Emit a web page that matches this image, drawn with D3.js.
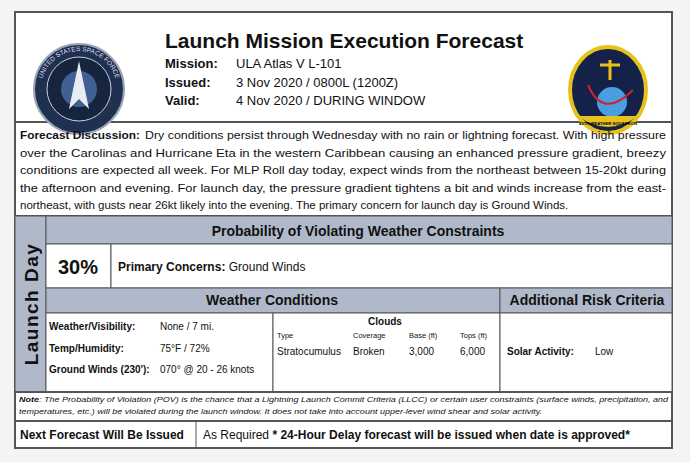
<!DOCTYPE html>
<html><head><meta charset="utf-8">
<script src="https://cdn.jsdelivr.net/npm/d3@7"></script>
<style>body{margin:0;background:#f4f4f4}svg{display:block;font-family:"Liberation Sans",Arial,sans-serif}</style>
</head><body><svg id="c" width="690" height="462"></svg>
<script>
const title = "Launch Mission Execution Forecast";
const headerLabels = ["Mission:", "Issued:", "Valid:"];
const headerValues = ["ULA Atlas V L-101", "3 Nov 2020 / 0800L (1200Z)", "4 Nov 2020 / DURING WINDOW"];
const discussionLead = "Forecast Discussion:";
const discussion = [
 "Dry conditions persist through Wednesday with no rain or lightning forecast.   With high pressure",
 "over the Carolinas and Hurricane Eta in the western Caribbean causing an enhanced pressure gradient, breezy",
 "conditions are expected all week.  For MLP Roll day today, expect winds from the northeast between 15-20kt during",
 "the afternoon and evening.  For launch day, the pressure gradient tightens a bit and winds increase from the east-",
 "northeast, with gusts near 26kt likely into the evening.  The primary concern for launch day is Ground Winds."
];
const pov = "30%";
const concern = "Ground Winds";
const condLabels = ["Weather/Visibility:", "Temp/Humidity:", "Ground Winds (230'):"];
const condValues = ["None / 7 mi.", "75°F / 72%", "070° @ 20 - 26 knots"];
const cloudHeads = ["Type", "Coverage", "Base (ft)", "Tops (ft)"];
const cloudVals = ["Stratocumulus", "Broken", "3,000", "6,000"];
const riskLabel = "Solar Activity:", riskValue = "Low";

const svg = d3.select("#c");
const L=15,R=672,T=12,B=448;
const grey="#b0b9c9", line="#555";
function rect(x,y0,w,h,fill,sw){return svg.append("rect").attr("x",x).attr("y",y0).attr("width",w).attr("height",h).attr("fill",fill).attr("stroke",line).attr("stroke-width",sw||1);}
function text(x,y0,s,o){o=o||{};const t=svg.append("text").attr("x",x).attr("y",y0).text(s).attr("font-size",o.size||12).attr("fill","#111");
 if(o.bold)t.attr("font-weight","bold");if(o.anchor)t.attr("text-anchor",o.anchor);if(o.italic)t.attr("font-style","italic");return t;}

rect(L,T,R-L,B-T,"#fff",2);
svg.append("line").attr("x1",L).attr("x2",R).attr("y1",122).attr("y2",122).attr("stroke",line).attr("stroke-width",2);
const g1=svg.append("g").attr("transform","translate(79,89)");
g1.append("circle").attr("r",45).attr("fill","#1f3050").attr("stroke","#9aa6b8").attr("stroke-width",2);
g1.append("circle").attr("r",32).attr("fill","#16243e").attr("stroke","#c7cfdc").attr("stroke-width",1);
g1.append("circle").attr("r",18).attr("fill","#4b6fa8").attr("opacity",0.8);
g1.append("path").attr("d","M0,-28 L10,20 L0,10 L-10,20 Z").attr("fill","#e8ecf3");
g1.append("defs").append("path").attr("id","arcTop").attr("d","M-38,0 A38,38 0 0 1 38,0");
g1.append("text").attr("font-size",6.5).attr("fill","#dde").append("textPath").attr("href","#arcTop").attr("startOffset","50%").attr("text-anchor","middle").text("UNITED STATES SPACE FORCE");
const g2=svg.append("g").attr("transform","translate(608,90)");
g2.append("ellipse").attr("rx",38).attr("ry",43).attr("fill","#14224a").attr("stroke","#e7c21c").attr("stroke-width",4);
g2.append("circle").attr("cx",4).attr("cy",12).attr("r",15).attr("fill","#4a9ee0");
g2.append("path").attr("d","M-20,-5 Q-5,30 25,0").attr("fill","none").attr("stroke","#d0202a").attr("stroke-width",2);
g2.append("path").attr("d","M2,-30 L2,-10 M-8,-25 L12,-25").attr("stroke","#e7c21c").attr("stroke-width",3);
g2.append("path").attr("d","M-30,26 Q0,48 30,26").attr("fill","#e7c21c");
g2.append("text").attr("y",35).attr("text-anchor","middle").attr("font-size",4.2).attr("font-weight","bold").text("45TH WEATHER SQUADRON");

text(165,48,title,{size:21,bold:true});
headerLabels.forEach((l,i)=>{text(165,68+i*18.5,l,{size:13,bold:true});text(236,68+i*18.5,headerValues[i],{size:13});});
text(20,139,discussionLead,{size:11.5,bold:true}).attr("textLength",120).attr("lengthAdjust","spacingAndGlyphs");
discussion.forEach((d,i)=>{const t=text(i?20:145,139+i*17.5,d,{size:11.5});
 if(i<4) t.attr("textLength",i?646:521).attr("lengthAdjust","spacingAndGlyphs");});
svg.append("line").attr("x1",L).attr("x2",R).attr("y1",216).attr("y2",216).attr("stroke",line).attr("stroke-width",2);
rect(L,216,31,176,grey);
text(0,0,"Launch Day",{size:19,bold:true,anchor:"middle"}).attr("letter-spacing",1.5).attr("transform","translate(38,304) rotate(-90)");
rect(46,216,R-46,28,grey);
text(358,236,"Probability of Violating Weather Constraints",{size:14,bold:true,anchor:"middle"});
rect(46,244,65,44,"#fff");rect(111,244,R-111,44,"#fff");
text(78,274,pov,{size:20,bold:true,anchor:"middle"});
const pc=text(118,271,"",{size:12});pc.append("tspan").attr("font-weight","bold").text("Primary Concerns: ");pc.append("tspan").text(concern);
rect(46,288,454,25,grey);rect(500,288,R-500,25,grey);
text(272,305,"Weather Conditions",{size:14,bold:true,anchor:"middle"});
text(587,305,"Additional Risk Criteria",{size:14,bold:true,anchor:"middle"});
rect(46,313,227,79,"#fff");rect(273,313,227,79,"#fff");rect(500,313,R-500,79,"#fff");
condLabels.forEach((l,i)=>{text(49,330+i*21.5,l,{size:10,bold:true});text(160,330+i*21.5,condValues[i],{size:10});});
text(385,325,"Clouds",{size:10,bold:true,anchor:"middle"});
const cx=[277,353,409,460];
cloudHeads.forEach((h,i)=>text(cx[i],338,h,{size:7.5}));
cloudVals.forEach((v,i)=>text(cx[i],355,v,{size:10}));
text(507,355,riskLabel,{size:10,bold:true});text(595,355,riskValue,{size:10});
svg.append("line").attr("x1",L).attr("x2",R).attr("y1",392).attr("y2",392).attr("stroke",line).attr("stroke-width",2);
const n=text(19,402,"",{size:7.5,italic:true});n.append("tspan").attr("font-weight","bold").text("Note");
n.append("tspan").text(": The Probability of Violation (POV) is the chance that a Lightning Launch Commit Criteria (LLCC) or certain user constraints (surface winds, precipitation, and");
n.attr("textLength",649).attr("lengthAdjust","spacingAndGlyphs");
text(19,414,"temperatures, etc.) will be violated during the launch window. It does not take into account upper-level wind shear and solar activity.",{size:7.5,italic:true}).attr("textLength",523).attr("lengthAdjust","spacingAndGlyphs");
svg.append("line").attr("x1",L).attr("x2",R).attr("y1",421).attr("y2",421).attr("stroke",line).attr("stroke-width",2);
svg.append("line").attr("x1",196).attr("x2",196).attr("y1",421).attr("y2",B).attr("stroke",line).attr("stroke-width",1);
text(20,439,"Next Forecast Will Be Issued",{size:12,bold:true});
const nf=text(203,439,"",{size:12});nf.append("tspan").text("As Required  ");nf.append("tspan").attr("font-weight","bold").text("* 24-Hour Delay forecast will be issued when date is approved*");
</script></body></html>
